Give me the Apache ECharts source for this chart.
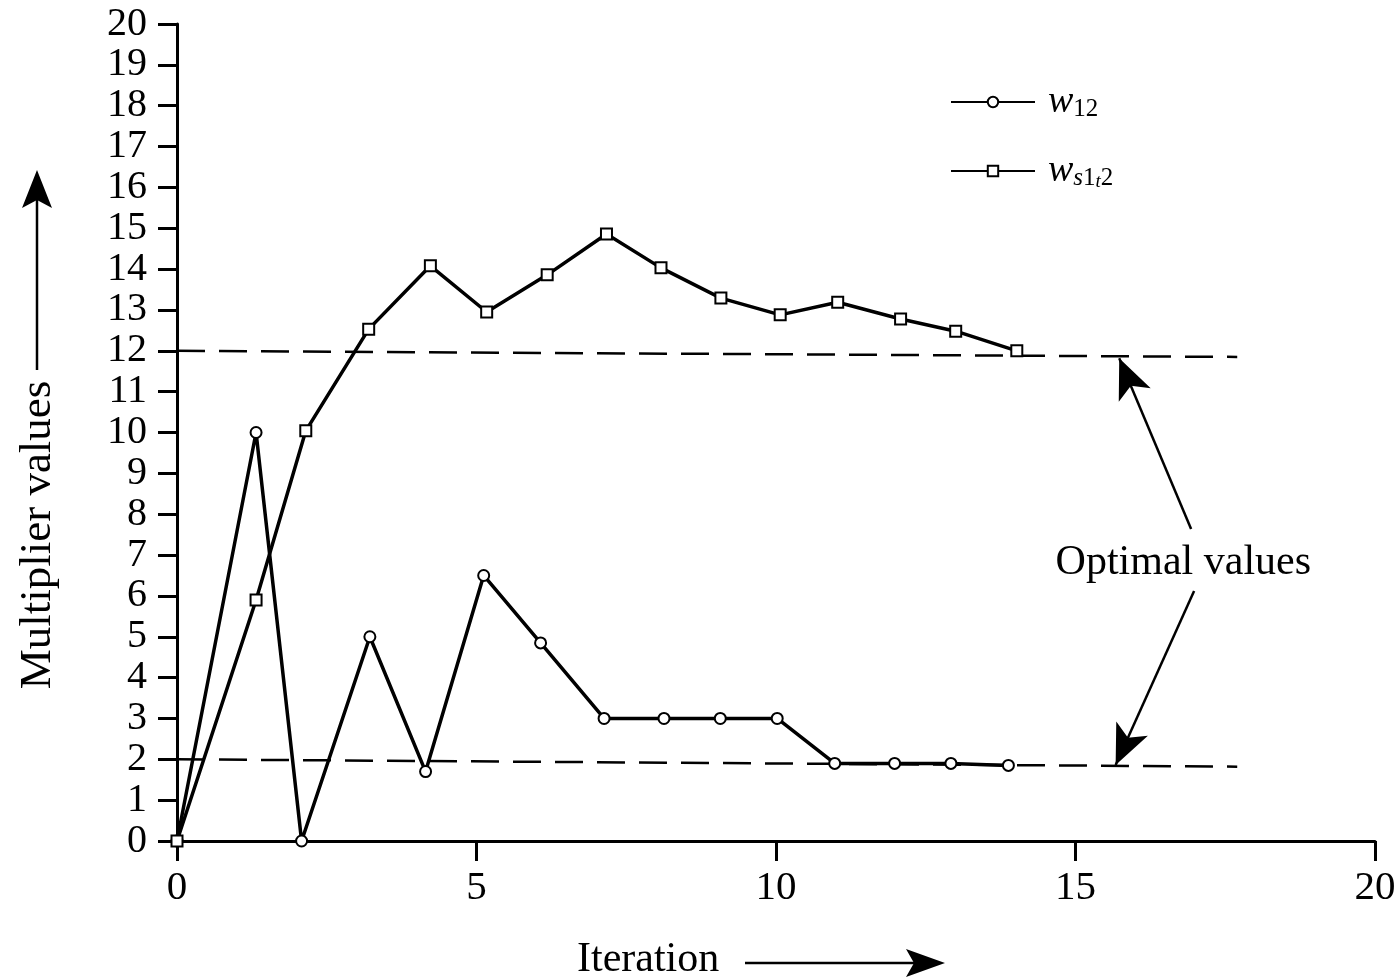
<!DOCTYPE html>
<html>
<head>
<meta charset="utf-8">
<script src="https://cdn.jsdelivr.net/npm/echarts@6/dist/echarts.min.js"></script>
<style>
html,body{margin:0;padding:0;background:#fff;}
#chart{width:1399px;height:980px;}
</style>
</head>
<body>
<div id="chart"></div>
<script>
// ---- data ----
var xW12 = [0, 1.32, 2.08, 3.22, 4.15, 5.12, 6.07, 7.13, 8.13, 9.07, 10.02, 10.98, 11.98, 12.92, 13.88];
var yW12 = [0, 10, 0, 5, 1.7, 6.5, 4.85, 3, 3, 3, 3, 1.9, 1.9, 1.9, 1.85];
var xWs = [0, 1.32, 2.15, 3.2, 4.23, 5.17, 6.18, 7.17, 8.08, 9.08, 10.07, 11.03, 12.08, 13.0, 14.02];
var yWs = [0, 5.9, 10.04, 12.53, 14.08, 12.95, 13.86, 14.86, 14.03, 13.29, 12.88, 13.19, 12.78, 12.48, 12.0];
var optUpperX = [0, 17.7];
var optUpperY = [12.0, 11.85];
var optLowerX = [0, 17.7];
var optLowerY = [2.0, 1.82];
var arrowUpper = [[16.93, 7.64], [15.73, 11.82]];
var arrowLower = [[16.98, 6.12], [15.67, 1.86]];
var annotationPos = [16.8, 6.8];
var annotationText = 'Optimal values';
var seriesNames = ['w12', 'ws1t2'];
var xTitle = 'Iteration';
var yTitle = 'Multiplier values';

function pairs(xs, ys) { return xs.map(function (x, i) { return [x, ys[i]]; }); }

var FONT = 'Liberation Serif';
var chart = echarts.init(document.getElementById('chart'));

var dashStyle = { color: '#000', width: 2.5, type: [28, 14] };

chart.setOption({
  backgroundColor: '#fff',
  animation: false,
  textStyle: { fontFamily: FONT, color: '#000' },
  grid: { left: 177, right: 24, top: 24, bottom: 139 },
  xAxis: {
    type: 'value', min: 0, max: 20, interval: 5,
    axisLine: { show: true, lineStyle: { color: '#000', width: 3 } },
    axisTick: { show: true, length: 20, lineStyle: { color: '#000', width: 3 } },
    axisLabel: { fontFamily: FONT, fontSize: 41, color: '#000', margin: 27 },
    splitLine: { show: false }
  },
  yAxis: {
    type: 'value', min: 0, max: 20, interval: 1,
    axisLine: { show: true, lineStyle: { color: '#000', width: 3 } },
    axisTick: { show: true, length: 19, lineStyle: { color: '#000', width: 3 } },
    axisLabel: { fontFamily: FONT, fontSize: 40, color: '#000', margin: 30 },
    splitLine: { show: false }
  },
  legend: {
    data: seriesNames,
    orient: 'vertical',
    left: 945, top: 78,
    itemWidth: 84, itemHeight: 13, itemGap: 30,
    textStyle: {
      color: '#000', fontFamily: FONT,
      rich: {
        w: { fontFamily: FONT, fontStyle: 'italic', fontSize: 38, lineHeight: 40, color: '#000', padding: [0, 0, 0, 8] },
        si: { fontFamily: FONT, fontStyle: 'italic', fontSize: 25, lineHeight: 20, verticalAlign: 'bottom', color: '#000' },
        s: { fontFamily: FONT, fontSize: 25, lineHeight: 20, verticalAlign: 'bottom', color: '#000' },
        ti: { fontFamily: FONT, fontStyle: 'italic', fontSize: 19, lineHeight: 12, verticalAlign: 'bottom', color: '#000' }
      }
    },
    formatter: function (name) {
      if (name === 'w12') return '{w|w}{s|12}';
      return '{w|w}{si|s}{s|1}{ti|t}{s|2}';
    }
  },
  series: [
    {
      name: 'w12', type: 'line',
      data: pairs(xW12, yW12),
      symbol: 'circle', symbolSize: 11,
      lineStyle: { color: '#000', width: 3.5 },
      itemStyle: { color: '#fff', borderColor: '#000', borderWidth: 2 },
      z: 5
    },
    {
      name: 'ws1t2', type: 'line',
      data: pairs(xWs, yWs),
      symbol: 'rect', symbolSize: 11,
      lineStyle: { color: '#000', width: 3.5 },
      itemStyle: { color: '#fff', borderColor: '#000', borderWidth: 2 },
      z: 5
    },
    {
      name: 'optUpper', type: 'line',
      data: pairs(optUpperX, optUpperY),
      symbol: 'none', lineStyle: dashStyle, z: 2,
      markLine: {
        silent: true, symbol: ['none', 'arrow'], symbolSize: [26, 40],
        lineStyle: { color: '#000', width: 2.5, type: 'solid' },
        label: { show: false },
        data: [
          [{ coord: arrowUpper[0] }, { coord: arrowUpper[1] }],
          [{ coord: arrowLower[0] }, { coord: arrowLower[1] }]
        ]
      }
    },
    {
      name: 'optLower', type: 'line',
      data: pairs(optLowerX, optLowerY),
      symbol: 'none', lineStyle: dashStyle, z: 2
    },
    {
      name: 'annotation', type: 'scatter',
      data: [annotationPos],
      symbolSize: 0, silent: true,
      itemStyle: { opacity: 1, color: '#000' },
      label: {
        show: true, position: 'inside', formatter: annotationText,
        fontFamily: FONT, fontSize: 42, color: '#000'
      }
    }
  ],
  graphic: [
    {
      type: 'text', left: 577, top: 939,
      style: { text: xTitle, font: '42px "Liberation Serif"', fill: '#000' }
    },
    {
      type: 'line', shape: { x1: 745, y1: 963, x2: 915, y2: 963 },
      style: { stroke: '#000', lineWidth: 2.5 }
    },
    {
      type: 'polygon', shape: { points: [[945, 963], [906, 949], [914, 963], [906, 977]] },
      style: { fill: '#000' }
    },
    {
      type: 'text', x: 38, y: 535, rotation: Math.PI / 2,
      style: { text: yTitle, font: '45px "Liberation Serif"', fill: '#000', align: 'center', verticalAlign: 'middle' }
    },
    {
      type: 'line', shape: { x1: 37, y1: 370, x2: 37, y2: 200 },
      style: { stroke: '#000', lineWidth: 2.5 }
    },
    {
      type: 'polygon', shape: { points: [[37, 170], [22, 208], [37, 200], [52, 208]] },
      style: { fill: '#000' }
    }
  ]
});
</script>
</body>
</html>
